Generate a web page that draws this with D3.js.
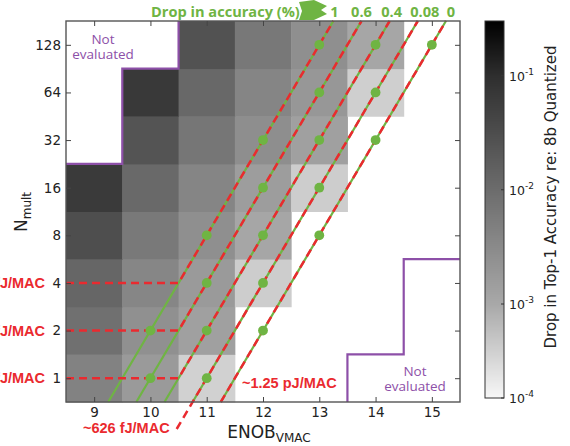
<!DOCTYPE html>
<html>
<head>
<meta charset="utf-8">
<script src="https://cdn.jsdelivr.net/npm/d3@7"></script>
<style>
body { margin: 0; background: #fff; }
svg { display: block; }
</style>
</head>
<body>
<div id="chart"></div>
<script>
// ENOB columns and N_mult rows
var enob = [9, 10, 11, 12, 13, 14, 15];
var nMult = [1, 2, 4, 8, 16, 32, 64, 128];

// drop in top-1 accuracy (fraction) per row, columns follow enob; null = white
var dropN1   = [0.0043, 0.0017, 0.0003, null, null, null, null];
var dropN2   = [0.0086, 0.0025, 0.00136, null, null, null, null];
var dropN4   = [0.0125, 0.0037, 0.0017, 0.00034, null, null, null];
var dropN8   = [0.030, 0.006, 0.0026, 0.0011, null, null, null];
var dropN16  = [0.064, 0.0112, 0.0038, 0.0015, 0.00034, null, null];
var dropN32  = [null, 0.024, 0.0068, 0.0027, 0.00136, null, null];
var dropN64  = [null, 0.066, 0.0116, 0.0038, 0.0019, 0.00032, null];
var dropN128 = [null, null, 0.026, 0.0063, 0.0026, 0.0011, null];
var dropRows = [dropN1, dropN2, dropN4, dropN8, dropN16, dropN32, dropN64, dropN128];

// not evaluated regions
var notEvalTop = [{enob: 9, fromN: 32}, {enob: 10, fromN: 128}];
var notEvalBottom = [{enob: 14, toN: 1}, {enob: 15, toN: 4}];

// iso-accuracy lines: labels (drop in %) and the measured points [enob, N]
var isoLabels = ["1", "0.6", "0.4", "0.08", "0"];
var isoPts1 = [[10, 2], [11, 8], [12, 32], [13, 128]];
var isoPts2 = [[10, 1], [11, 4], [12, 16], [13, 64]];
var isoPts3 = [[11, 2], [12, 8], [13, 32], [14, 128]];
var isoPts4 = [[11, 1], [12, 4], [13, 16], [14, 64]];
var isoPts5 = [[12, 2], [13, 8], [14, 32], [15, 128]];
var isoLines = [isoPts1, isoPts2, isoPts3, isoPts4, isoPts5];

// energy contours, following the iso lines; floor N where it turns flat
var energyLabels = ["~78 fJ/MAC", "~156 fJ/MAC", "~313 fJ/MAC", "~626 fJ/MAC", "~1.25 pJ/MAC"];
var energyFloorN = [4, 2, 1, null, null];

// colorbar ticks
var cbTicks = [1e-4, 1e-3, 1e-2, 1e-1];
var cbExps = ["-4", "-3", "-2", "-1"];

var W = 570, H = 446;
var L = 66, R = 460, T = 21, B = 402;
var green = "#6fb443", red = "#ea2a2f", purple = "#8d50a8";

var svg = d3.select("#chart").append("svg")
  .attr("width", W).attr("height", H)
  .style("font-family", "'DejaVu Sans', sans-serif");

var x = d3.scaleLinear().domain([8.5, 15.5]).range([L, R]);
var y = d3.scaleLog().base(2).domain([Math.SQRT1_2, 128 * Math.SQRT2]).range([B, T]);

var gray = d3.scaleLog().domain([1e-4, 1e-3, 1e-2, 1e-1, 0.3]).range([247, 168, 108, 46, 0]).clamp(true);
function fillOf(v) { var g = Math.round(gray(v)); return d3.rgb(g, g, g).toString(); }

// cells
var cells = [];
dropRows.forEach(function(row, i) {
  row.forEach(function(v, j) {
    if (v != null) cells.push({n: nMult[i], e: enob[j], v: v});
  });
});
svg.append("g").selectAll("rect").data(cells).join("rect")
  .attr("x", function(d) { return x(d.e - 0.5); })
  .attr("width", function(d) { return x(d.e + 0.5) - x(d.e - 0.5) + 0.5; })
  .attr("y", function(d) { return y(d.n * Math.SQRT2); })
  .attr("height", function(d) { return y(d.n * Math.SQRT1_2) - y(d.n * Math.SQRT2) + 0.5; })
  .attr("fill", function(d) { return fillOf(d.v); });

// iso lines: E as a function of log2 N
function isoFn(pts) {
  var a = pts[0], b = pts[pts.length - 1];
  var slope = (b[0] - a[0]) / (Math.log2(b[1]) - Math.log2(a[1]));
  return function(l) { return a[0] + slope * (l - Math.log2(a[1])); };
}
var lTop = Math.log2(y.domain()[1]), lBot = Math.log2(y.domain()[0]);

var gIso = svg.append("g");
isoLines.forEach(function(pts) {
  var f = isoFn(pts);
  gIso.append("line")
    .attr("x1", x(f(lBot))).attr("y1", y(Math.pow(2, lBot)))
    .attr("x2", x(f(lTop))).attr("y2", y(Math.pow(2, lTop)))
    .attr("stroke", green).attr("stroke-width", 2.2);
});

// energy contours (red dashed)
var gEn = svg.append("g");
energyLabels.forEach(function(lab, i) {
  var f = isoFn(isoLines[i]);
  var pts;
  if (energyFloorN[i] != null) {
    var lf = Math.log2(energyFloorN[i]);
    pts = [[L, y(energyFloorN[i])], [x(f(lf)), y(energyFloorN[i])], [x(f(lTop)), T]];
  } else {
    var lLow = i === 3 ? Math.log2(y.invert(429)) : lBot;
    pts = [[x(f(lLow)), y(Math.pow(2, lLow))], [x(f(lTop)), T]];
  }
  gEn.append("path")
    .attr("d", d3.line()(pts))
    .attr("fill", "none").attr("stroke", red)
    .attr("stroke-width", 2.5).attr("stroke-dasharray", "8,5");
});

// dots
var dots = [];
isoLines.forEach(function(pts) { pts.forEach(function(p) { dots.push(p); }); });
svg.append("g").selectAll("circle").data(dots).join("circle")
  .attr("cx", function(d) { return x(d[0]); })
  .attr("cy", function(d) { return y(d[1]); })
  .attr("r", 4.9).attr("fill", green);

// not evaluated boundaries
var topPts = [];
notEvalTop.forEach(function(d) {
  var yy = y(d.fromN * Math.SQRT1_2);
  topPts.push([x(d.enob - 0.5), yy], [x(d.enob + 0.5), yy]);
});
topPts.push([x(notEvalTop[notEvalTop.length - 1].enob + 0.5), T]);
var botPts = [[x(notEvalBottom[0].enob - 0.5), B]];
notEvalBottom.forEach(function(d) {
  var yy = y(d.toN * Math.SQRT2);
  botPts.push([x(d.enob - 0.5), yy], [x(d.enob + 0.5), yy]);
});
[topPts, botPts].forEach(function(p) {
  svg.append("path").attr("d", d3.line()(p))
    .attr("fill", "none").attr("stroke", purple).attr("stroke-width", 2.2);
});

// frame and ticks
svg.append("rect").attr("x", L).attr("y", T).attr("width", R - L).attr("height", B - T)
  .attr("fill", "none").attr("stroke", "#555").attr("stroke-width", 1.4);

function styleAxis(g) {
  g.select(".domain").remove();
  g.selectAll(".tick line").attr("stroke", "#444");
  g.selectAll("text").attr("fill", "#222").style("font-size", "13.5px").style("font-family", "'DejaVu Sans', sans-serif");
}
svg.append("g").attr("transform", "translate(0," + B + ")")
  .call(d3.axisBottom(x).tickValues(enob).tickFormat(d3.format("d")).tickSizeInner(-5).tickSizeOuter(0).tickPadding(5))
  .call(styleAxis);
svg.append("g").attr("transform", "translate(0," + T + ")")
  .call(d3.axisTop(x).tickValues(enob).tickFormat("").tickSizeInner(-5).tickSizeOuter(0))
  .call(styleAxis);
svg.append("g").attr("transform", "translate(" + L + ",0)")
  .call(d3.axisLeft(y).tickValues(nMult).tickFormat(d3.format("d")).tickSizeInner(-5).tickSizeOuter(0).tickPadding(5))
  .call(styleAxis);
svg.append("g").attr("transform", "translate(" + R + ",0)")
  .call(d3.axisRight(y).tickValues(nMult).tickFormat("").tickSizeInner(-5).tickSizeOuter(0))
  .call(styleAxis);

// axis titles
var xt = svg.append("text").attr("x", 269).attr("y", 438).attr("text-anchor", "middle")
  .attr("fill", "#222").style("font-size", "17px");
xt.append("tspan").text("ENOB");
xt.append("tspan").attr("dy", 4).style("font-size", "12px").text("VMAC");

var yt = svg.append("text").attr("transform", "translate(27,212) rotate(-90)").attr("text-anchor", "middle")
  .attr("fill", "#222").style("font-size", "17px");
yt.append("tspan").text("N");
yt.append("tspan").attr("dy", 4).style("font-size", "12px").text("mult");

// not evaluated labels
var sans = "'Open Sans', sans-serif";
function notEvalText(cx, by) {
  ["Not", "evaluated"].forEach(function(w, k) {
    svg.append("text").attr("x", cx).attr("y", by + k * 15)
      .attr("text-anchor", "middle").attr("fill", purple)
      .style("font-family", sans).style("font-size", "13.5px").text(w);
  });
}
notEvalText(103, 44);
notEvalText(415, 376);

// energy labels
var redFont = "'Liberation Sans', Arial, sans-serif";
energyLabels.forEach(function(lab, i) {
  var t = svg.append("text").attr("fill", red).style("font-family", redFont)
    .style("font-weight", "bold").style("font-size", "14.5px").text(lab);
  if (energyFloorN[i] != null) {
    t.attr("x", 45).attr("y", y(energyFloorN[i]) + 5).attr("text-anchor", "end");
  } else if (i === 3) {
    t.attr("x", 83).attr("y", 433);
  } else {
    t.attr("x", 242).attr("y", 388);
  }
});

// top legend: drop in accuracy
var gLeg = svg.append("g").attr("fill", green).style("font-family", sans)
  .style("font-weight", "bold").style("font-size", "14.6px");
gLeg.append("text").attr("x", 151).attr("y", 17).text("Drop in accuracy (%)");
gLeg.append("path")
  .attr("d", "M299,2 L314,0 L327,6 L321,10 L327,14 L314,20 L299,20 L302,11 Z");
var nudge = [1, 0, 2, 7, 5];
isoLines.forEach(function(pts, i) {
  var f = isoFn(pts);
  gLeg.append("text").attr("x", x(f(lTop)) + nudge[i]).attr("y", 17)
    .attr("text-anchor", "middle").text(isoLabels[i]);
});

// colorbar
var cbX = 485, cbW = 19, cbT = 21, cbB = 398;
var cb = d3.scaleLog().domain([1e-4, 1e-3, 0.3]).range([cbB, 304, cbT]);
var gCb = svg.append("g");
d3.range(cbT, cbB).forEach(function(py) {
  gCb.append("rect").attr("x", cbX).attr("y", py).attr("width", cbW).attr("height", 1.2)
    .attr("fill", fillOf(cb.invert(py + 0.5)));
});
gCb.append("rect").attr("x", cbX).attr("y", cbT).attr("width", cbW).attr("height", cbB - cbT)
  .attr("fill", "none").attr("stroke", "#333").attr("stroke-width", 1);
cbTicks.forEach(function(v, i) {
  var py = cb(v);
  gCb.append("line").attr("x1", cbX + cbW - 3).attr("x2", cbX + cbW).attr("y1", py).attr("y2", py)
    .attr("stroke", "#333");
  var t = gCb.append("text").attr("x", cbX + cbW + 5).attr("y", py + 5).attr("fill", "#222")
    .style("font-size", "12.5px");
  t.append("tspan").text("10");
  t.append("tspan").attr("dy", -6).style("font-size", "9px").text(cbExps[i]);
});
svg.append("text").attr("transform", "translate(556,197) rotate(-90)").attr("text-anchor", "middle")
  .attr("fill", "#222").style("font-size", "15px")
  .text("Drop in Top-1 Accuracy re: 8b Quantized");
</script>
</body>
</html>
